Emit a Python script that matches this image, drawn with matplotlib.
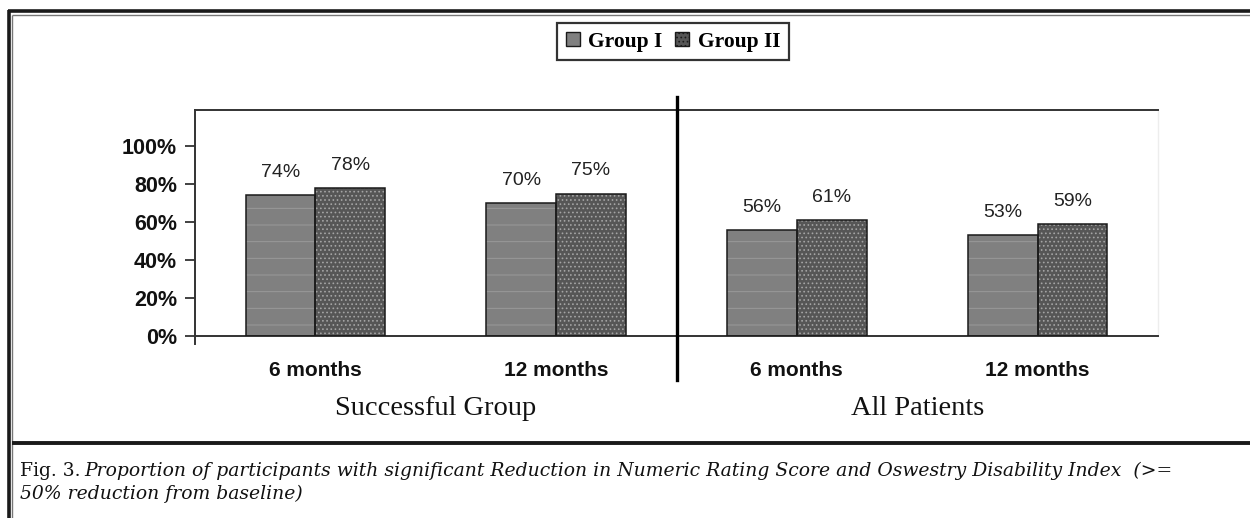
import matplotlib
matplotlib.use("Agg")
import matplotlib.pyplot as plt
from matplotlib.lines import Line2D
from matplotlib.patches import Patch
from matplotlib.text import Annotation
import matplotlib.transforms as mtransforms
import numpy as np

# Data
categories = ["6 months", "12 months", "6 months", "12 months"]
panel_labels = ["Successful Group", "All Patients"]
series_names = ["Group I", "Group II"]
group1 = [74, 70, 56, 53]
group2 = [78, 75, 61, 59]
y_ticks = [0, 20, 40, 60, 80, 100]
y_tick_labels = ["0%", "20%", "40%", "60%", "80%", "100%"]
caption_head = "Fig. 3."
caption_line1 = ("Proportion of participants with significant Reduction in Numeric "
                 "Rating Score and Oswestry Disability Index  (>=")
caption_line2 = "50% reduction from baseline)"

SANS = ["Liberation Sans", "DejaVu Sans"]
SERIF = ["Liberation Serif", "DejaVu Serif"]
CAPTION_SERIF = ["DejaVu Serif"]

plt.rcParams["hatch.linewidth"] = 0.7

W, H = 1250, 518
fig = plt.figure(figsize=(W / 100, H / 100), dpi=100)
fig.patch.set_facecolor("white")

# plot area placed in pixel terms
left_px, right_px, top_px, zero_px = 195, 1158, 110, 336
ax = fig.add_axes([left_px / W, 1 - zero_px / H,
                   (right_px - left_px) / W, (zero_px - top_px) / H])

x = np.arange(len(categories))
bw = 0.29
c1, c2 = "#808080", "#565656"

# textured fills, then plain outlines on top
ax.bar(x - bw / 2, group1, bw, color=c1, edgecolor="#9a9a9a", hatch="-", linewidth=0, zorder=2)
ax.bar(x + bw / 2, group2, bw, color=c2, edgecolor="#a4a4a4", hatch="....", linewidth=0, zorder=2)
ax.bar(x - bw / 2, group1, bw, fill=False, edgecolor="#1a1a1a", linewidth=1.1, zorder=3)
ax.bar(x + bw / 2, group2, bw, fill=False, edgecolor="#1a1a1a", linewidth=1.1, zorder=3)

for xi, v in zip(x - bw / 2, group1):
    ax.annotate(f"{v}%", (xi, v), xytext=(0, 13), textcoords="offset points",
                ha="center", va="baseline", fontsize=14, family=SANS, color="#222222")
for xi, v in zip(x + bw / 2, group2):
    ax.annotate(f"{v}%", (xi, v), xytext=(0, 13), textcoords="offset points",
                ha="center", va="baseline", fontsize=14, family=SANS, color="#222222")

ax.set_xlim(-0.5, len(categories) - 0.5)
ax.set_ylim(0, 100 * (zero_px - top_px) / 190)
ax.set_yticks(y_ticks)
ax.set_yticklabels(y_tick_labels, fontsize=15.5, fontweight="bold", family=SANS, color="#111111")
ax.set_xticks(x)
ax.set_xticklabels(categories, fontsize=15, fontweight="bold", family=SANS, color="#111111")
ax.tick_params(axis="x", length=0, pad=18)
ax.tick_params(axis="y", length=7, width=1.3, color="#333333", pad=6)

for side in ("left", "bottom", "top"):
    ax.spines[side].set_color("#333333")
    ax.spines[side].set_linewidth(1.4)
ax.spines["right"].set_color("#ededed")
ax.spines["right"].set_linewidth(1.0)

# y axis continues a little below the baseline
ax.add_line(Line2D([0, 0], [0, -0.035], transform=ax.transAxes, color="#333333",
                   lw=1.4, clip_on=False))
# separator between the two panels
ax.axvline(1.5, ymin=-0.195, ymax=1.058, color="black", lw=2.4, clip_on=False, zorder=4)

# panel titles
blend = mtransforms.blended_transform_factory(ax.transData, ax.transAxes)
for xc, lab in zip([0.5, 2.5], panel_labels):
    ax.text(xc, -0.32, lab, transform=blend, ha="center", va="center",
            fontsize=20.5, family=SERIF, color="#111111")

# legend
handles = [Patch(facecolor=c1, edgecolor="#1a1a1a", lw=1.0),
           Patch(facecolor=c2, edgecolor="#1a1a1a", lw=1.0, hatch="....")]
leg = fig.legend(handles, series_names, loc="center", bbox_to_anchor=(673 / W, 1 - 41.5 / H),
                 ncol=2, frameon=True, fancybox=False, handlelength=0.65, handleheight=0.65,
                 handletextpad=0.4, columnspacing=0.6, borderpad=0.4,
                 prop={"family": SERIF, "weight": "bold", "size": 15.5})
leg.get_frame().set_edgecolor("black")
leg.get_frame().set_linewidth(1.6)

# page frame lines
def fline(xs, ys, lw, color):
    fig.add_artist(Line2D([v / W for v in xs], [1 - v / H for v in ys],
                          transform=fig.transFigure, lw=lw, color=color,
                          solid_capstyle="butt"))

fline([7.5, W], [11, 11], 2.6, "#1a1a1a")
fline([11.5, W], [15, 15], 1.0, "#777777")
fline([8.5, 8.5], [9.7, H], 2.6, "#1a1a1a")
fline([12, 12], [14.5, H], 1.0, "#777777")
fline([12, W], [443, 443], 2.8, "#1a1a1a")

# caption
t1 = fig.text(20 / W, 1 - 476 / H, caption_head, fontsize=13.5, family=CAPTION_SERIF,
              ha="left", va="baseline", color="#111111")
t2 = Annotation(caption_line1, xy=(1, 0), xycoords=t1, xytext=(3, 0),
                textcoords="offset points", ha="left", va="bottom",
                fontsize=13.5, family=CAPTION_SERIF, style="italic", color="#111111")
fig.add_artist(t2)
fig.text(20 / W, 1 - 499 / H, caption_line2, fontsize=13.5, family=CAPTION_SERIF, style="italic",
         ha="left", va="baseline", color="#111111")

fig.savefig("out.png", dpi=100)
